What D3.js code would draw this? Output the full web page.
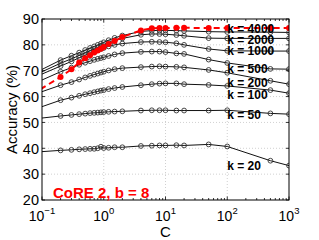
<!DOCTYPE html>
<html lang="en">
<head>
<meta charset="UTF-8">
<title>CoRE accuracy vs C</title>
<script src="https://d3js.org/d3.v7.min.js"></script>
<style>
  body { margin: 0; background: #fff; }
  text { font-family: 'Liberation Sans', Arial, sans-serif; }
</style>
</head>
<body>
<div id="chart"></div>
<script>
// C values (first point lies left of the axis and is clipped)
const cValues = [0.05, 0.2, 0.3, 0.4, 0.5, 0.6, 0.7, 0.8, 0.9, 1, 1.2, 1.5, 2, 4, 6, 8, 10, 15, 20, 50, 100, 500, 1000];

const kLabels = ["k = 20", "k = 50", "k = 100", "k = 200", "k = 500", "k = 1000", "k = 2000", "k = 4000"];
const labelY = [33.2, 53, 60.7, 65.4, 70.8, 77.8, 81.9, 86.1];

const k20   = [38.2, 39.2, 39.4, 39.6, 39.7, 39.8, 39.8, 40.0, 40.6, 40.1, 40.2, 40.4, 40.4, 40.9, 41.0, 41.1, 41.1, 41.2, 41.1, 41.5, 40.7, 35.2, 33.3];
const k50   = [50.9, 52.5, 52.9, 53.2, 53.4, 53.6, 53.7, 53.8, 53.9, 54.0, 54.1, 54.2, 54.3, 54.6, 54.7, 54.7, 54.7, 54.6, 54.6, 54.6, 54.7, 53.5, 53.2];
const k100  = [53.6, 58.6, 59.6, 60.3, 60.9, 61.3, 61.7, 62.0, 62.3, 62.5, 62.9, 63.3, 63.7, 64.4, 64.8, 65.0, 65.1, 65.1, 64.8, 64.5, 64.1, 62.5, 61.3];
const k200  = [59.4, 64.4, 65.6, 66.6, 67.4, 68.0, 68.5, 68.9, 69.3, 69.6, 70.1, 70.6, 71.0, 71.4, 71.6, 71.7, 71.6, 71.5, 71.3, 70.3, 69.2, 66.1, 64.8];
const k500  = [63.2, 69.6, 71.2, 72.3, 73.1, 73.7, 74.2, 74.6, 74.9, 75.2, 75.7, 76.3, 76.8, 77.3, 77.4, 77.4, 77.2, 76.7, 76.5, 74.3, 73.0, 70.7, 70.6];
const k1000 = [65.6, 71.8, 73.6, 75.0, 76.0, 76.8, 77.4, 77.9, 78.4, 78.8, 79.4, 80.0, 80.5, 81.1, 81.2, 81.1, 81.0, 80.6, 80.0, 78.4, 77.7, 77.6, 77.6];
const k2000 = [66.3, 72.9, 74.6, 75.9, 76.9, 77.7, 78.3, 78.9, 79.4, 79.9, 80.7, 81.6, 82.5, 83.9, 84.2, 84.2, 84.1, 83.8, 83.5, 82.6, 82.5, 82.5, 82.5];
const k4000 = [66.9, 74.1, 75.8, 77.0, 78.0, 78.8, 79.4, 80.0, 80.5, 81.0, 81.8, 82.7, 83.6, 85.2, 85.5, 85.6, 85.6, 85.5, 85.4, 85.1, 85.0, 84.9, 84.8];
const redSeries = [58.8, 67.6, 70.6, 73.2, 74.8, 76.0, 77.0, 77.8, 78.5, 79.2, 80.3, 81.5, 83.0, 85.6, 86.4, 86.5, 86.5, 86.6, 86.6, 86.5, 86.5, 86.5, 86.5];

const blackSeries = [k20, k50, k100, k200, k500, k1000, k2000, k4000];

const yTicks = [20, 30, 40, 50, 60, 70, 80, 90];
const xDecades = [-1, 0, 1, 2, 3];
const panelText = "CoRE 2, b = 8";

const width = 319, height = 240;
const margin = { left: 42, right: 30, top: 19, bottom: 40 };

const svg = d3.select("#chart").append("svg")
  .attr("width", width)
  .attr("height", height);

const x = d3.scaleLog().domain([0.1, 1000]).range([margin.left, width - margin.right]);
const y = d3.scaleLinear().domain([20, 90]).range([height - margin.bottom, margin.top]);

const x0 = x.range()[0], x1 = x.range()[1];
const y0 = y.range()[0], y1 = y.range()[1];

svg.append("clipPath").attr("id", "clip")
  .append("rect").attr("x", x0).attr("y", y1).attr("width", x1 - x0).attr("height", y0 - y1);

// grid
const grid = svg.append("g").attr("stroke", "#bbb").attr("stroke-width", 0.7).attr("stroke-dasharray", "1,2");
yTicks.slice(1, -1).forEach(v => {
  grid.append("line").attr("x1", x0).attr("x2", x1).attr("y1", y(v)).attr("y2", y(v));
});
xDecades.slice(1, -1).forEach(d => {
  grid.append("line").attr("x1", x(Math.pow(10, d))).attr("x2", x(Math.pow(10, d))).attr("y1", y0).attr("y2", y1);
});

// series
const line = d3.line().x((d, i) => x(cValues[i])).y(d => y(d));
const plot = svg.append("g").attr("clip-path", "url(#clip)");

blackSeries.forEach(s => {
  plot.append("path").datum(s)
    .attr("d", line).attr("fill", "none").attr("stroke", "#111").attr("stroke-width", 1);
  plot.selectAll(null).data(s).enter().append("circle")
    .attr("cx", (d, i) => x(cValues[i])).attr("cy", d => y(d))
    .attr("r", 2.4).attr("fill", "none").attr("stroke", "#333").attr("stroke-width", 0.9);
});

plot.append("path").datum(redSeries)
  .attr("d", line).attr("fill", "none").attr("stroke", "#ff0000")
  .attr("stroke-width", 2).attr("stroke-dasharray", "6,4");
plot.selectAll(null).data(redSeries).enter().append("circle")
  .attr("cx", (d, i) => x(cValues[i])).attr("cy", d => y(d))
  .attr("r", 3).attr("fill", "#ff0000");

// k labels
kLabels.forEach((t, i) => {
  svg.append("text").attr("x", x(100)).attr("y", y(labelY[i]))
    .attr("dy", "0.35em").attr("font-size", 12).attr("font-weight", "bold")
    .attr("fill", "#000").text(t);
});

// box
svg.append("rect").attr("x", x0).attr("y", y1).attr("width", x1 - x0).attr("height", y0 - y1)
  .attr("fill", "none").attr("stroke", "#000").attr("stroke-width", 1);

// ticks
const ticks = svg.append("g").attr("stroke", "#000").attr("stroke-width", 0.8);
yTicks.forEach(v => {
  ticks.append("line").attr("x1", x0).attr("x2", x0 + 3).attr("y1", y(v)).attr("y2", y(v));
  ticks.append("line").attr("x1", x1).attr("x2", x1 - 3).attr("y1", y(v)).attr("y2", y(v));
});
xDecades.forEach(d => {
  for (let m = 1; m <= 9; m++) {
    const c = m * Math.pow(10, d);
    if (c > 1000) break;
    const len = m === 1 ? 3.5 : 2;
    ticks.append("line").attr("x1", x(c)).attr("x2", x(c)).attr("y1", y0).attr("y2", y0 - len);
    ticks.append("line").attr("x1", x(c)).attr("x2", x(c)).attr("y1", y1).attr("y2", y1 + len);
  }
});

// tick labels
yTicks.forEach(v => {
  svg.append("text").attr("x", x0 - 3).attr("y", y(v)).attr("dy", "0.36em")
    .attr("text-anchor", "end").attr("font-size", 14.5).attr("fill", "#000").text(v);
});
xDecades.forEach(d => {
  const t = svg.append("text").attr("x", x(Math.pow(10, d))).attr("y", y0 + 21)
    .attr("text-anchor", "middle").attr("fill", "#000");
  t.append("tspan").attr("font-size", 14).text("10");
  t.append("tspan").attr("font-size", 9.5).attr("dy", -7).text(d < 0 ? "\u2212" + (-d) : d);
});

// axis titles
svg.append("text").attr("x", x(10)).attr("y", y0 + 37)
  .attr("text-anchor", "middle").attr("font-size", 15).text("C");
svg.append("text")
  .attr("transform", `translate(17,${(y0 + y1) / 2}) rotate(-90)`)
  .attr("text-anchor", "middle").attr("font-size", 15).text("Accuracy (%)");

// panel text
svg.append("text").attr("x", 53).attr("y", y(22.7)).attr("dy", "0.35em")
  .attr("font-size", 15).attr("font-weight", "bold").attr("fill", "#ff0000").text(panelText);
</script>
</body>
</html>
